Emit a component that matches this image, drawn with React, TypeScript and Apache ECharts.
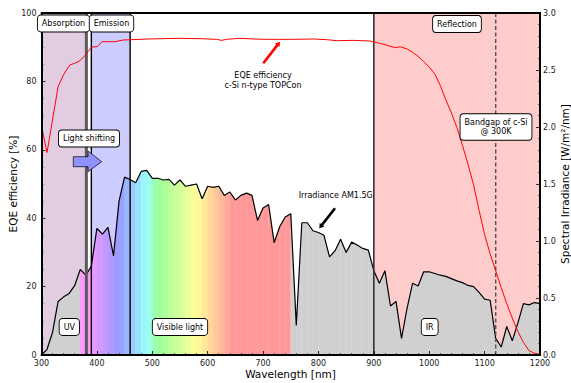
import React, { useEffect, useRef } from "react";
import * as echarts from "echarts";

// ---------- data ----------
const irrWavelengths = [
  300, 310, 320, 330, 340, 350, 360, 370, 380, 390, 400, 410, 420, 430, 440, 450, 460, 470, 480, 490,
  500, 510, 520, 530, 540, 550, 560, 570, 580, 590, 600, 610, 620, 630, 640, 650, 660, 670, 680, 690,
  700, 710, 720, 730, 740, 750, 760, 770, 780, 790, 800, 810, 820, 830, 840, 850, 860, 870, 880, 890,
  900, 910, 920, 930, 940, 950, 960, 970, 980, 990, 1000, 1010, 1020, 1030, 1040, 1050, 1060, 1070,
  1080, 1090, 1100, 1110, 1120, 1130, 1140, 1150, 1160, 1170, 1180, 1190, 1200,
];
const irradiance = [
  0.0, 0.05, 0.2, 0.47, 0.51, 0.54, 0.61, 0.75, 0.7, 0.78, 1.11, 1.06, 1.12, 0.87, 1.35, 1.56, 1.54, 1.51, 1.61, 1.62,
  1.55, 1.55, 1.535, 1.54, 1.49, 1.535, 1.48, 1.49, 1.5, 1.37, 1.48, 1.47, 1.48, 1.4, 1.43, 1.36, 1.4, 1.42, 1.4, 1.18,
  1.29, 1.32, 0.985, 1.125, 1.21, 1.24, 0.26, 1.16, 1.16, 1.09, 1.075, 1.05, 0.86, 0.915, 1.015, 0.9, 0.99, 0.965, 0.935, 0.92,
  0.74, 0.63, 0.74, 0.43, 0.47, 0.146, 0.41, 0.63, 0.605, 0.73, 0.73, 0.715, 0.7, 0.69, 0.67, 0.65, 0.635, 0.61,
  0.6, 0.55, 0.49, 0.48, 0.146, 0.07, 0.25, 0.125, 0.28, 0.45, 0.44, 0.46, 0.45,
];

const eqeWavelengths = [
  300, 310, 330, 340, 351, 360, 369, 381, 390, 401, 409, 432, 447, 492, 550, 586, 616, 625, 634, 658,
  682, 706, 730, 755, 791, 815, 833, 863, 893, 905, 923, 938, 948, 960, 970, 980, 990, 1000, 1010, 1020,
  1030, 1040, 1050, 1060, 1070, 1080, 1090, 1100, 1110, 1120, 1130, 1140, 1150, 1160, 1170, 1180, 1190, 1200,
];
const eqeValues = [
  66.8, 59.2, 78.5, 82, 84.8, 85.3, 86, 88, 90, 90.2, 91.6, 91.6, 92.1, 92.4, 92.6, 92.5, 92.3, 92.0, 92.3, 92.6,
  92.4, 92.3, 92.3, 92.3, 92.4, 92.2, 91.9, 92.0, 91.8, 91.4, 90.6, 89.9, 90.1, 89.5, 88.5, 87.3, 85.8, 84.2, 82.2, 78.8,
  74.6, 70.8, 66.5, 61.3, 55.8, 49.8, 42.3, 35.2, 29.6, 24.6, 19.7, 15.0, 10.8, 6.9, 3.7, 1.3, 0.5, 0.2,
];

const regionRanges = [
  [300, 380],
  [390, 460],
  [900, 1200],
];
const regionColors = ["#e2cce2", "#ccccff", "#ffcccc"];

const visibleRange = [370, 750];

const markerWavelengths = [381, 390, 460, 900, 1120];
const markerStyles = [
  { stroke: "#5a5a5a", lineWidth: 3 },
  { stroke: "#000000", lineWidth: 1.4 },
  { stroke: "#000000", lineWidth: 1.4 },
  { stroke: "#333333", lineWidth: 1.6 },
  { stroke: "#555555", lineWidth: 1.5, lineDash: [4, 2.5] },
];

const FONT = '"DejaVu Sans", sans-serif';

// ---------- style helpers ----------
function spectrumColor(l: number): string {
  let r = 0,
    g = 0,
    b = 0;
  if (l < 440) {
    r = Math.max(0, Math.min(1, -(l - 440) / 60));
    b = 1;
  } else if (l < 490) {
    g = (l - 440) / 50;
    b = 1;
  } else if (l < 510) {
    g = 1;
    b = -(l - 510) / 20;
  } else if (l < 580) {
    r = (l - 510) / 70;
    g = 1;
  } else if (l < 645) {
    r = 1;
    g = -(l - 645) / 65;
  } else {
    r = 1;
  }
  const a = 0.4;
  const mix = (c: number) => Math.round(255 * (1 - a) + 255 * c * a);
  return `rgb(${mix(r)},${mix(g)},${mix(b)})`;
}

function arrow(sx: number, sy: number, tx: number, ty: number, color: string, width: number, headLen: number, headW: number) {
  const dx = tx - sx,
    dy = ty - sy;
  const L = Math.hypot(dx, dy);
  const ux = dx / L,
    uy = dy / L;
  const bx = tx - ux * headLen,
    by = ty - uy * headLen;
  const nx = -uy,
    ny = ux;
  return [
    { type: "line", z: 100, shape: { x1: sx, y1: sy, x2: bx + ux * 0.5, y2: by + uy * 0.5 }, style: { stroke: color, lineWidth: width } },
    {
      type: "polygon",
      z: 100,
      shape: { points: [[tx, ty], [bx + nx * headW, by + ny * headW], [bx - nx * headW, by - ny * headW]] },
      style: { fill: color },
    },
  ];
}

function boxLabel(text: string, x: number, y: number) {
  return {
    type: "text",
    z: 100,
    x,
    y,
    style: {
      text,
      font: `8px ${FONT}`,
      fill: "#000",
      align: "center",
      verticalAlign: "middle",
      lineHeight: 9.5,
      backgroundColor: "#fff",
      borderColor: "#000",
      borderWidth: 0.9,
      borderRadius: 3,
      padding: [3.5, 4, 3, 4],
    },
  };
}

function plainLabel(text: string, x: number, y: number, size = 8, rotation = 0) {
  return {
    type: "text",
    z: 100,
    x,
    y,
    rotation,
    style: { text, font: `${size}px ${FONT}`, fill: "#000", align: "center", verticalAlign: "middle", lineHeight: 9.3 },
  };
}

export default function App() {
  const ref = useRef<HTMLDivElement>(null);

  useEffect(() => {
    document.body.style.margin = "0";
    if (!ref.current) return;
    const chart = echarts.init(ref.current, undefined, { renderer: "svg" });

    const fillData: number[][] = [];
    for (let i = 0; i < irrWavelengths.length - 1; i++) {
      fillData.push([irrWavelengths[i], irradiance[i], irrWavelengths[i + 1], irradiance[i + 1]]);
    }

    const tickLabel = { fontSize: 8, fontFamily: FONT, color: "#222" };

    const option: any = {
      animation: false,
      backgroundColor: "#fff",
      grid: { left: 41.5, right: 31, top: 13, bottom: 28, containLabel: false, outerBoundsMode: "none" },
      xAxis: [
        {
          type: "value",
          min: 300,
          max: 1200,
          interval: 100,
          position: "bottom",
          z: 20,
          axisLine: { show: true, onZero: false, lineStyle: { color: "#000", width: 2 } },
          axisTick: { show: true, inside: true, length: 4, lineStyle: { color: "#000", width: 0.8 } },
          minorTick: { show: true, splitNumber: 5, length: 2, lineStyle: { color: "#000", width: 0.6 } },
          axisLabel: { ...tickLabel, margin: 4, formatter: (v: number) => String(v) },
          splitLine: { show: false },
        },
        {
          type: "value",
          min: 300,
          max: 1200,
          position: "top",
          z: 20,
          axisLine: { show: true, onZero: false, lineStyle: { color: "#000", width: 2 } },
          axisTick: { show: false },
          axisLabel: { show: false },
          splitLine: { show: false },
        },
      ],
      yAxis: [
        {
          type: "value",
          min: 0,
          max: 100,
          interval: 20,
          position: "left",
          z: 20,
          axisLine: { show: true, onZero: false, lineStyle: { color: "#000", width: 2 } },
          axisTick: { show: true, inside: true, length: 4, lineStyle: { color: "#000", width: 0.8 } },
          minorTick: { show: true, splitNumber: 4, length: 2, lineStyle: { color: "#000", width: 0.6 } },
          axisLabel: { ...tickLabel, margin: 5 },
          splitLine: { show: false },
        },
        {
          type: "value",
          min: 0,
          max: 3,
          interval: 0.5,
          position: "right",
          z: 20,
          axisLine: { show: true, onZero: false, lineStyle: { color: "#000", width: 2 } },
          axisTick: { show: true, inside: true, length: 4, lineStyle: { color: "#000", width: 0.8 } },
          minorTick: { show: true, splitNumber: 5, length: 2, lineStyle: { color: "#000", width: 0.6 } },
          axisLabel: { ...tickLabel, margin: 3, formatter: (v: number) => v.toFixed(1) },
          splitLine: { show: false },
        },
      ],
      series: [
        {
          type: "custom",
          name: "regions",
          xAxisIndex: 0,
          yAxisIndex: 0,
          z: 1,
          silent: true,
          data: regionRanges,
          encode: { x: [0, 1] },
          renderItem: (params: any, api: any) => {
            const p0 = api.coord([api.value(0), 100]);
            const p1 = api.coord([api.value(1), 0]);
            return {
              type: "rect",
              shape: { x: p0[0], y: p0[1], width: p1[0] - p0[0], height: p1[1] - p0[1] },
              style: { fill: regionColors[params.dataIndex] },
            };
          },
        },
        {
          type: "custom",
          name: "irradiance fill",
          xAxisIndex: 0,
          yAxisIndex: 1,
          z: 2,
          silent: true,
          data: fillData,
          encode: { x: [0, 2], y: [1, 3] },
          renderItem: (params: any, api: any) => {
            const x0 = api.value(0),
              y0 = api.value(1),
              x1 = api.value(2),
              y1 = api.value(3);
            const visible = x0 >= visibleRange[0] && x0 < visibleRange[1];
            const color = visible ? spectrumColor(x0 + 5) : "#d0d0d0";
            return {
              type: "polygon",
              shape: { points: [api.coord([x0, 0]), api.coord([x0, y0]), api.coord([x1, y1]), api.coord([x1, 0])] },
              style: { fill: color, stroke: color, lineWidth: 0.35 },
            };
          },
        },
        {
          type: "line",
          name: "Irradiance AM1.5G",
          xAxisIndex: 0,
          yAxisIndex: 1,
          z: 3,
          symbol: "none",
          silent: true,
          data: irrWavelengths.map((w, i) => [w, irradiance[i]]),
          lineStyle: { color: "#000", width: 1.2 },
        },
        {
          type: "custom",
          name: "markers",
          xAxisIndex: 0,
          yAxisIndex: 0,
          z: 4,
          silent: true,
          data: markerWavelengths.map((w) => [w]),
          encode: { x: 0 },
          renderItem: (params: any, api: any) => {
            const top = api.coord([api.value(0), 100]);
            const bot = api.coord([api.value(0), 0]);
            return {
              type: "line",
              shape: { x1: top[0], y1: top[1], x2: bot[0], y2: bot[1] },
              style: { ...markerStyles[params.dataIndex], fill: null },
            };
          },
        },
        {
          type: "line",
          name: "EQE efficiency",
          xAxisIndex: 0,
          yAxisIndex: 0,
          z: 5,
          symbol: "none",
          silent: true,
          data: eqeWavelengths.map((w, i) => [w, eqeValues[i]]),
          lineStyle: { color: "#ff0000", width: 1 },
        },
      ],
      graphic: [
        plainLabel("Wavelength [nm]", 290.5, 374, 10.5),
        plainLabel("EQE efficiency [%]", 13, 184, 10.5, Math.PI / 2),
        plainLabel("Spectral Irradiance [W/m²/nm]", 565, 184, 10.5, Math.PI / 2),
        boxLabel("Absorption", 63.5, 23.5),
        boxLabel("Emission", 111.5, 23.5),
        boxLabel("Reflection", 457, 24),
        boxLabel("Bandgap of c-Si\n@ 300K", 496, 127),
        boxLabel("Light shifting", 89, 138.5),
        boxLabel("UV", 69.3, 327),
        boxLabel("Visible light", 180, 327),
        boxLabel("IR", 429.7, 327),
        plainLabel("EQE efficiency\nc-Si n-type TOPCon", 263, 80.5),
        plainLabel("Irradiance AM1.5G", 335.7, 195),
        ...arrow(263.3, 63.3, 280, 41.7, "#ff0000", 2.6, 4.5, 3),
        ...arrow(335, 208.3, 319.3, 228.3, "#000000", 2.6, 4.5, 3),
        {
          type: "polygon",
          z: 100,
          shape: {
            points: [
              [73.3, 156.7],
              [88, 156.7],
              [88, 151],
              [101.7, 161.7],
              [88, 171.7],
              [88, 166.7],
              [73.3, 166.7],
            ],
          },
          style: { fill: "#9090ff", stroke: "#000", lineWidth: 0.7 },
        },
      ],
    };

    chart.setOption(option);
    return () => chart.dispose();
  }, []);

  return <div ref={ref} style={{ width: 571, height: 383 }} />;
}
